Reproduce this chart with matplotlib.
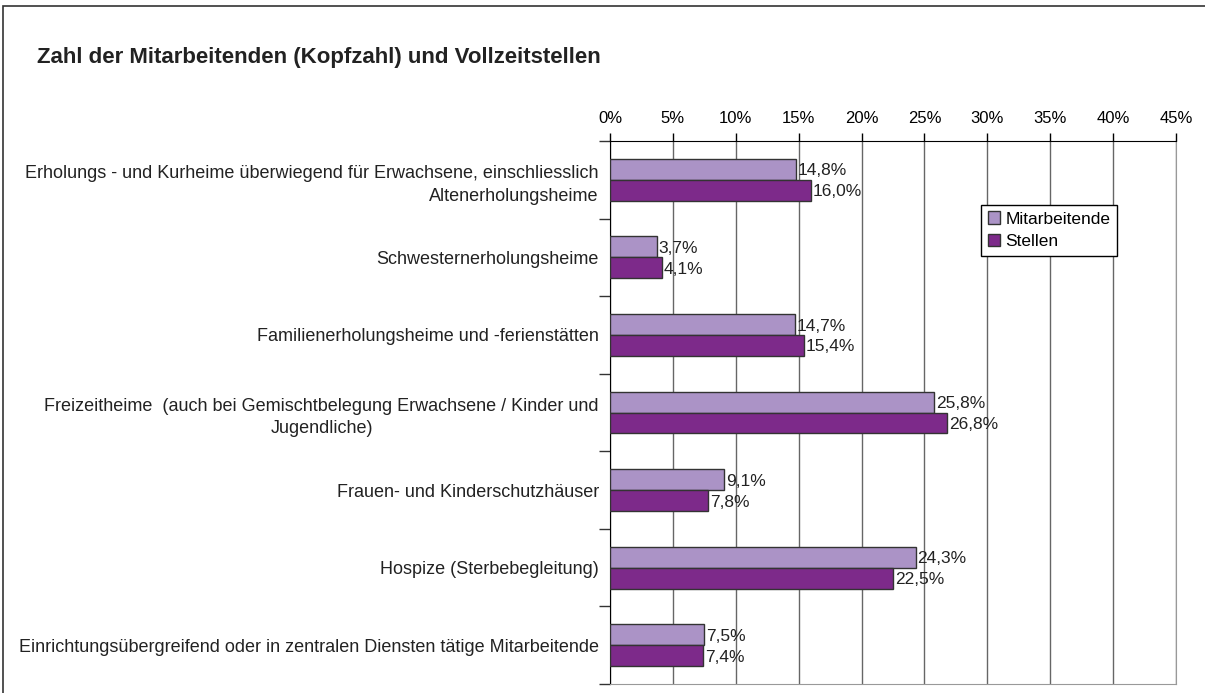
import matplotlib.pyplot as plt
from matplotlib.patches import Rectangle

plt.rcParams["font.family"] = ["Liberation Sans", "DejaVu Sans"]

categories = [
    "Erholungs - und Kurheime überwiegend für Erwachsene, einschliesslich\nAltenerholungsheime",
    "Schwesternerholungsheime",
    "Familienerholungsheime und -ferienstätten",
    "Freizeitheime  (auch bei Gemischtbelegung Erwachsene / Kinder und\nJugendliche)",
    "Frauen- und Kinderschutzhäuser",
    "Hospize (Sterbebegleitung)",
    "Einrichtungsübergreifend oder in zentralen Diensten tätige Mitarbeitende",
]
mitarbeitende = [14.8, 3.7, 14.7, 25.8, 9.1, 24.3, 7.5]
stellen = [16.0, 4.1, 15.4, 26.8, 7.8, 22.5, 7.4]
x_ticks = [0, 5, 10, 15, 20, 25, 30, 35, 40, 45]

col_mit = "#ab93c6"
col_st = "#7d2a8a"

fig = plt.figure(figsize=(12.05, 6.93), dpi=100)
ax = fig.add_axes([0.5062, 0.013, 0.4697, 0.7835])

centers = [i + 0.5 for i in range(len(categories))]
h = 0.27
ax.barh([c - h / 2 for c in centers], mitarbeitende, height=h,
        color=col_mit, edgecolor="#333333", linewidth=1, label="Mitarbeitende", zorder=3)
ax.barh([c + h / 2 for c in centers], stellen, height=h,
        color=col_st, edgecolor="#333333", linewidth=1, label="Stellen", zorder=3)

# value labels to the right of each bar
for c, v in zip(centers, mitarbeitende):
    ax.text(v + 0.15, c - h / 2 + 0.02, f"{v:.1f}%".replace(".", ","),
            va="center", ha="left", fontsize=12.5, color="#222222", zorder=4)
for c, v in zip(centers, stellen):
    ax.text(v + 0.15, c + h / 2 + 0.02, f"{v:.1f}%".replace(".", ","),
            va="center", ha="left", fontsize=12.5, color="#222222", zorder=4)

ax.set_xlim(0, 45)
ax.set_ylim(len(categories), 0)

ax.xaxis.tick_top()
ax.set_xticks(x_ticks)
ax.set_xticklabels([f"{t}%" for t in x_ticks], fontsize=12)
ax.tick_params(axis="x", direction="out", length=6, width=1, color="black", pad=5)
ax.grid(axis="x", color="#666666", linewidth=1, zorder=0)

ax.set_yticks(range(len(categories) + 1))
ax.set_yticklabels([])
ax.tick_params(axis="y", which="major", direction="out", length=8, width=1, color="#333333")
ax.set_yticks(centers, minor=True)
ax.set_yticklabels(categories, minor=True, fontsize=13)
ax.tick_params(axis="y", which="minor", length=0, pad=8)
for i, lab in enumerate(ax.get_yticklabels(minor=True)):
    lab.set_multialignment("center" if i == 3 else "right")
    lab.set_linespacing(1.45)
    lab.set_color("#222222")

ax.spines["left"].set_color("black")
ax.spines["top"].set_color("black")
ax.spines["right"].set_color("#999999")
ax.spines["bottom"].set_color("#999999")

ax.legend(loc="upper left", bbox_to_anchor=(0.6555, 0.883), borderaxespad=0,
          fontsize=12.5, frameon=True, fancybox=False, edgecolor="black",
          handlelength=0.7, handleheight=0.7, handletextpad=0.3,
          labelspacing=0.4, borderpad=0.4, framealpha=1)

fig.text(37 / 1205, 1 - 57 / 693, "Zahl der Mitarbeitenden (Kopfzahl) und Vollzeitstellen",
         fontsize=16, fontweight="bold", va="center", ha="left", color="#222222")

fig.patches.append(Rectangle((3 / 1205, -0.05), 1.0, 1.05 - 6 / 693,
                             transform=fig.transFigure, fill=False,
                             edgecolor="#333333", linewidth=1.2))

fig.savefig("out.png", dpi=100)
